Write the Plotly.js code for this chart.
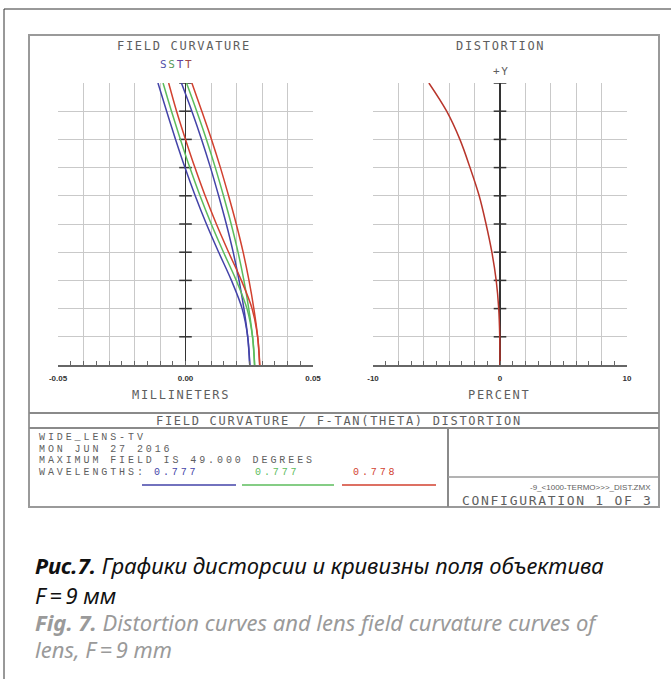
<!DOCTYPE html>
<html><head><meta charset="utf-8">
<script src="https://cdn.plot.ly/plotly-3.0.1.min.js"></script>
<style>
html,body{margin:0;padding:0;background:#fff;}
#chart{width:671px;height:679px;}
text[style*="DejaVu Sans Mono"]{letter-spacing:1.7px;}
text[style*="Liberation Mono"]{letter-spacing:2.9px;}
</style></head><body><div id="chart"></div>
<script>
// relative field (0 = axis, 1 = 49 deg)
const relField = [0, 0.1, 0.2, 0.3, 0.4, 0.5, 0.6, 0.7, 0.8, 0.9, 1.0];
// field curvature, millimeters
const tanBlue  = [0.0252, 0.0244, 0.0222, 0.0180, 0.0130, 0.0082, 0.0038, -0.0002, -0.0039, -0.0074, -0.0108];
const tanGreen = [0.0271, 0.0263, 0.0241, 0.0199, 0.0149, 0.0101, 0.0057, 0.0017, -0.0020, -0.0055, -0.0088];
const tanRed   = [0.0291, 0.0283, 0.0261, 0.0219, 0.0169, 0.0121, 0.0077, 0.0037, 0.0000, -0.0035, -0.0066];
const sagBlue  = [0.0252, 0.0244, 0.0229, 0.0210, 0.0187, 0.0160, 0.0130, 0.0098, 0.0063, 0.0025, -0.0016];
const sagGreen = [0.0271, 0.0263, 0.0248, 0.0229, 0.0206, 0.0179, 0.0149, 0.0117, 0.0082, 0.0044, 0.0004];
const sagRed   = [0.0291, 0.0283, 0.0268, 0.0249, 0.0226, 0.0199, 0.0169, 0.0137, 0.0102, 0.0064, 0.0025];
// distortion, percent
const distortion = [0, -0.02, -0.1, -0.3, -0.64, -1.1, -1.64, -2.36, -3.16, -4.2, -5.6];
// axis ticks
const fcTickVals = [-0.05, -0.04, -0.03, -0.02, -0.01, 0, 0.01, 0.02, 0.03, 0.04, 0.05];
const fcTickText = ['-0.05', '', '', '', '', '0.00', '', '', '', '', '0.05'];
const dTickVals = [-10, -8, -6, -4, -2, 0, 2, 4, 6, 8, 10];
const dTickText = ['-10', '', '', '', '', '0', '', '', '', '', '10'];
const axisTickY = [0.1, 0.2, 0.3, 0.4, 0.5, 0.6, 0.7, 0.8, 0.9, 1.0];
const axisTickX = [0, 0, 0, 0, 0, 0, 0, 0, 0, 0];
const wavelengths = ['0.777', '0.777', '0.778'];

const W = 671, H = 679;
const X = p => p / W;
const Y = p => 1 - p / H;
const cBlue = '#4343a8', cGreen = '#5cbc5c', cRed = '#d2412f';
const txt = '#5e5e5e';
const mono = 'DejaVu Sans Mono';
const infoMono = 'Liberation Mono';

function curve(x, color, xa, ya) {
  return {x: x, y: relField, type: 'scatter', mode: 'lines', xaxis: xa, yaxis: ya,
    line: {color: color, width: 1.5, shape: 'spline', smoothing: 1}, hoverinfo: 'skip', showlegend: false};
}
function axisTicks(xa, ya) {
  return {x: axisTickX, y: axisTickY, type: 'scatter', mode: 'markers', xaxis: xa, yaxis: ya,
    marker: {symbol: 'line-ew', size: 9, line: {color: '#333', width: 1.5}}, hoverinfo: 'skip', showlegend: false};
}

const data = [
  axisTicks('x', 'y'),
  curve(tanBlue, cBlue, 'x', 'y'), curve(sagBlue, cBlue, 'x', 'y'),
  curve(tanGreen, cGreen, 'x', 'y'), curve(sagGreen, cGreen, 'x', 'y'),
  curve(tanRed, cRed, 'x', 'y'), curve(sagRed, cRed, 'x', 'y'),
  axisTicks('x2', 'y2'),
  curve(distortion, '#b8352b', 'x2', 'y2')
];

function xAxis(range, vals, text, domain, anchor, minorDt) {
  return {domain: domain, range: range, anchor: anchor, tickmode: 'array', tickvals: vals, ticktext: text,
    showgrid: true, gridcolor: '#c9c9c9', gridwidth: 1, zeroline: true, zerolinecolor: '#333', zerolinewidth: 1.5,
    showline: true, linecolor: '#666', linewidth: 1.5, ticks: 'inside', ticklen: 4, tickcolor: '#666', tickwidth: 1,
    minor: {dtick: minorDt, tick0: range[0], ticks: 'inside', ticklen: 4, tickcolor: '#666', showgrid: false},
    tickfont: {family: 'Liberation Sans', size: 8, color: '#333', weight: 'bold'}, ticklabelstandoff: 5, fixedrange: true};
}
function yAxis(domain, anchor) {
  return {domain: domain, range: [0, 1], anchor: anchor, tickmode: 'linear', tick0: 0, dtick: 0.1,
    showgrid: true, gridcolor: '#c9c9c9', gridwidth: 1, zeroline: false, showline: false,
    showticklabels: false, ticks: '', fixedrange: true};
}

const yDom = [Y(365), Y(83)];
const layout = {
  width: W, height: H, autosize: false, margin: {l: 0, r: 0, t: 0, b: 0},
  paper_bgcolor: '#fff', plot_bgcolor: '#fff', showlegend: false,
  xaxis: xAxis([-0.05, 0.05], fcTickVals, fcTickText, [X(58), X(313)], 'y', 0.005),
  yaxis: yAxis(yDom, 'x'),
  xaxis2: xAxis([-10, 10], dTickVals, dTickText, [X(373), X(627)], 'y2', 1),
  yaxis2: yAxis(yDom, 'x2'),
  shapes: [
    // outer page border (left + top)
    {type: 'line', xref: 'paper', yref: 'paper', x0: X(4), x1: X(4), y0: Y(9), y1: 0, line: {color: '#333', width: 1}},
    {type: 'line', xref: 'paper', yref: 'paper', x0: X(4), x1: 1, y0: Y(9), y1: Y(9), line: {color: '#333', width: 1}},
    // plot frame
    {type: 'rect', xref: 'paper', yref: 'paper', x0: X(29), x1: X(659), y0: Y(507), y1: Y(35), line: {color: '#9a9a9a', width: 2}},
    {type: 'line', xref: 'paper', yref: 'paper', x0: X(29), x1: X(659), y0: Y(413), y1: Y(413), line: {color: '#8a8a8a', width: 2}},
    {type: 'line', xref: 'paper', yref: 'paper', x0: X(29), x1: X(659), y0: Y(428), y1: Y(428), line: {color: '#8a8a8a', width: 2}},
    {type: 'line', xref: 'paper', yref: 'paper', x0: X(448), x1: X(448), y0: Y(428), y1: Y(507), line: {color: '#8a8a8a', width: 2}},
    {type: 'line', xref: 'paper', yref: 'paper', x0: X(448), x1: X(659), y0: Y(477), y1: Y(477), line: {color: '#9a9a9a', width: 1.5}},
    // wavelength keys
    {type: 'line', xref: 'paper', yref: 'paper', x0: X(142), x1: X(236), y0: Y(485), y1: Y(485), line: {color: cBlue, width: 1.5}},
    {type: 'line', xref: 'paper', yref: 'paper', x0: X(242), x1: X(334), y0: Y(485), y1: Y(485), line: {color: cGreen, width: 1.5}},
    {type: 'line', xref: 'paper', yref: 'paper', x0: X(342), x1: X(436), y0: Y(485), y1: Y(485), line: {color: cRed, width: 1.5}}
  ],
  annotations: []
};

function ann(text, x, y, opts) {
  const o = Object.assign({size: 12, color: txt, family: mono, xanchor: 'center'}, opts || {});
  layout.annotations.push({text: text, xref: 'paper', yref: 'paper', x: X(x), y: Y(y), xanchor: o.xanchor, yanchor: 'middle',
    showarrow: false, font: {family: o.family, size: o.size, color: o.color, style: o.style || 'normal'}, align: 'left'});
}
ann('FIELD CURVATURE', 184, 46);
ann('DISTORTION', 500, 46);
ann('<span style="color:#5050a8">S</span><span style="color:#5a9a5a">S</span><span style="color:#6040a0">T</span><span style="color:#a04848">T</span>', 176, 64, {size: 11, color: '#5050a8'});
ann('+Y', 502, 72, {size: 11});
ann('MILLINETERS', 181, 395);
ann('PERCENT', 499, 395);
ann('FIELD CURVATURE / F-TAN(THETA) DISTORTION', 339, 421);
ann('WIDE_LENS-TV', 37, 437.5, {xanchor: 'left', family: infoMono, size: 10});
ann('MON JUN 27 2016', 37, 449, {xanchor: 'left', family: infoMono, size: 10});
ann('MAXIMUM FIELD IS 49.000 DEGREES', 37, 460.5, {xanchor: 'left', family: infoMono, size: 10});
ann('WAVELENGTHS:', 37, 472, {xanchor: 'left', family: infoMono, size: 10});
ann(wavelengths[0], 176, 472, {color: cBlue, family: infoMono, size: 10});
ann(wavelengths[1], 277, 472, {color: cGreen, family: infoMono, size: 10});
ann(wavelengths[2], 375, 472, {color: cRed, family: infoMono, size: 10});
ann('-9_&lt;1000-TERMO&gt;&gt;&gt;_DIST.ZMX', 653, 487, {xanchor: 'right', family: 'Liberation Sans', size: 8});
ann('CONFIGURATION 1 OF 3', 655, 500, {xanchor: 'right', size: 13});
// caption
const cap = 'Noto Sans';
ann('<b>Рис.7.</b> Графики дисторсии и кривизны поля объектива', 33, 565, {xanchor: 'left', family: cap, size: 22, color: '#111', style: 'italic'});
ann('F\u2009=\u20099 мм', 33, 595, {xanchor: 'left', family: cap, size: 22, color: '#111', style: 'italic'});
ann('<b>Fig. 7.</b> Distortion curves and lens field curvature curves of', 33, 622, {xanchor: 'left', family: cap, size: 22, color: '#9a9a9a', style: 'italic'});
ann('lens, F\u2009=\u20099 mm', 33, 649, {xanchor: 'left', family: cap, size: 22, color: '#9a9a9a', style: 'italic'});

Plotly.newPlot('chart', data, layout, {staticPlot: true, displayModeBar: false});
</script></body></html>
